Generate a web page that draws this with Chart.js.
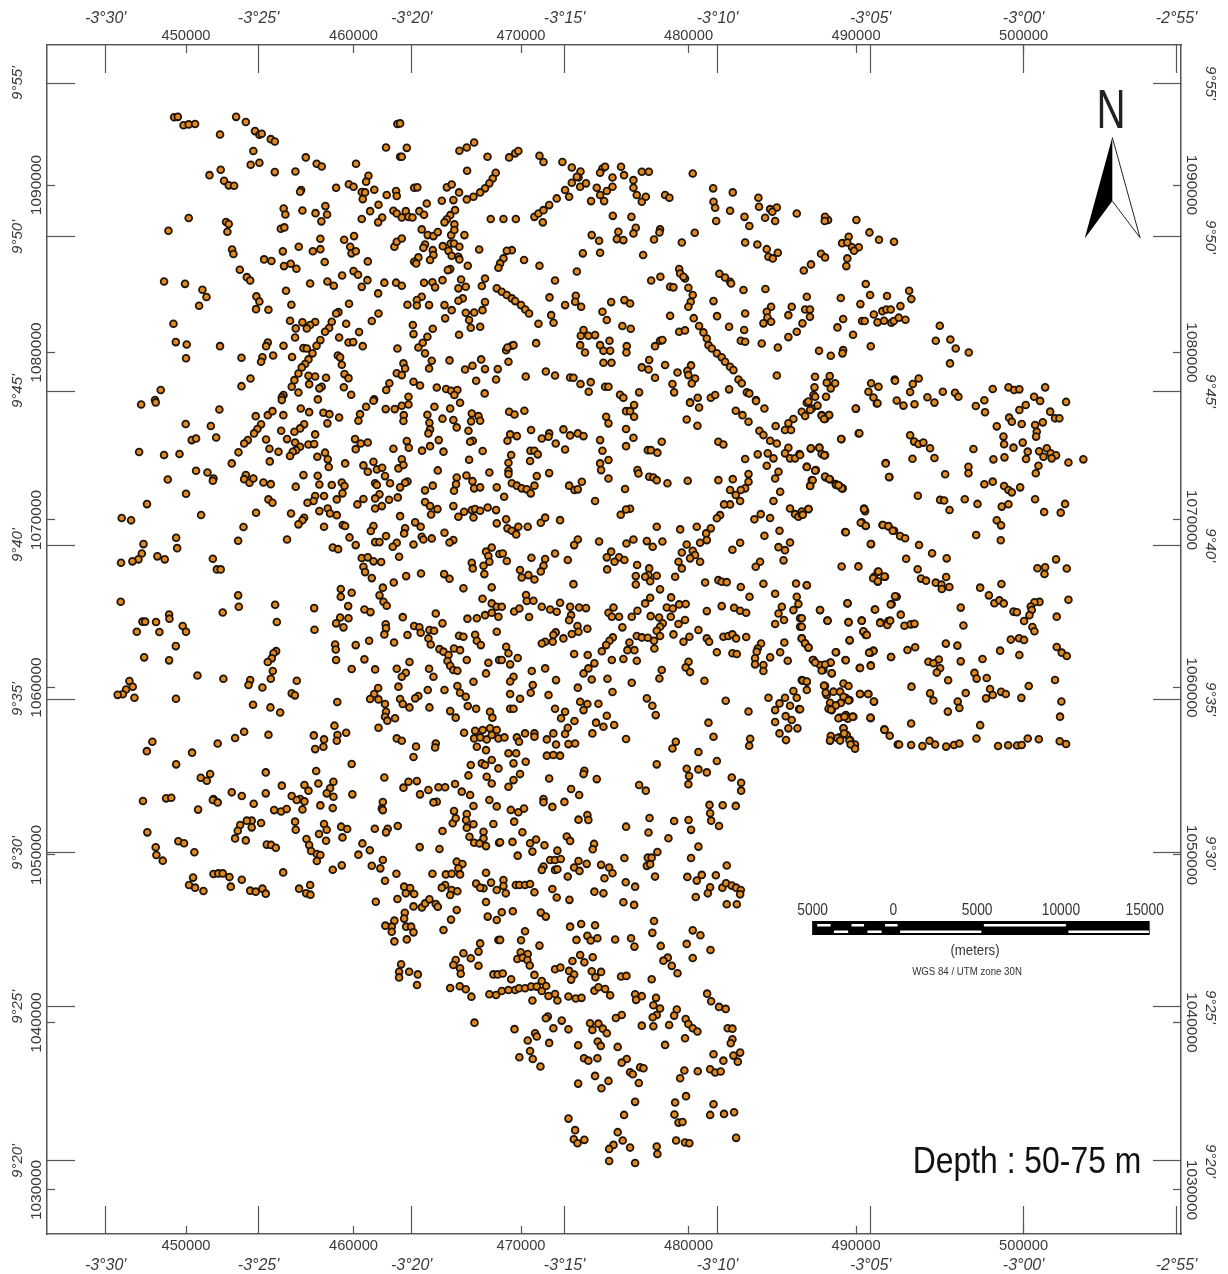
<!DOCTYPE html>
<html>
<head>
<meta charset="utf-8">
<style>
html,body{margin:0;padding:0;background:#fff}
#wrap{width:1228px;height:1274px}
</style>
<script src="https://cdn.jsdelivr.net/npm/chart.js@4/dist/chart.umd.min.js"></script>
</head>
<body>
<div id="wrap"><canvas id="map" width="1228" height="1274"></canvas></div>
<script>
// grid ticks, km
var utmEast = [450,460,470,480,490,500];
var utmEastLabels = ['450000','460000','470000','480000','490000','500000'];
var utmNorth = [1030,1040,1050,1060,1070,1080,1090];
var utmNorthLabels = ['1030000','1040000','1050000','1060000','1070000','1080000','1090000'];
var lonTicks = [445.2,454.33,463.47,472.6,481.73,490.87,500,509.13];
var lonLabels = ["-3°30'","-3°25'","-3°20'","-3°15'","-3°10'","-3°05'","-3°00'","-2°55'"];
var latTicks = [1031.73,1040.93,1050.12,1059.31,1068.5,1077.7,1086.9,1096.09];
var latLabels = ["9°20'","9°25'","9°30'","9°35'","9°40'","9°45'","9°50'","9°55'"];
var scaleBarTicks = [-5,0,5,10,15];
var scaleBarLabels = ['5000','0','5000','10000','15000'];
var scaleBarOrigin = 492.53;

// wells [easting km, northing km], by part of the map
var wellsNW = [[449.29,1094.05],[449.51,1094.07],[449.85,1093.57],[450.16,1093.62],[450.54,1093.64],[452.03,1093.02],[452.99,1094.07],[453.57,1093.76],[454.12,1093.22],[454.38,1093],[454.52,1093.06],[455.06,1092.74],[455.3,1092.6],[454.02,1092.03],[453.86,1091.21],[454.38,1091.33],[457.15,1091.65],[457.8,1091.27],[458.1,1091.11],[455.3,1090.77],[456.53,1090.81],[452.07,1090.91],[451.4,1090.59],[452.27,1090.25],[452.55,1089.98],[452.87,1089.96],[460.15,1091.27],[461.94,1092.24],[460.89,1090.55],[460.75,1090.2],[462.62,1093.64],[462.78,1091.69],[459.72,1090.05],[460,1089.9],[458.96,1089.84],[456.87,1089.7],[456.81,1089.6],[460.49,1089.58],[460.69,1089.56],[461.24,1089.72],[461.98,1089.4],[462.54,1089.64],[462.58,1089.34],[460.55,1089.16],[461.49,1088.82],[460.99,1088.44],[462.38,1088.46],[461.71,1088.06],[461.47,1087.77],[460.49,1087.97],[455.83,1088.6],[455.93,1088.24],[456.95,1088.48],[457.73,1088.32],[458.32,1088.74],[458.42,1088.24],[458.08,1087.83],[450.16,1088.03],[452.39,1087.79],[452.55,1087.67],[452.47,1087.21],[448.95,1087.27],[455.66,1087.39],[455.87,1087.47],[458.02,1086.79],[459.44,1086.73],[460.03,1086.95],[462.58,1088.3],[462.44,1086.31],[462.58,1086.61],[452.75,1086.15],[452.83,1085.88],[455.78,1086.04],[456.73,1086.31],[457.57,1086.05],[458.02,1086.17],[459.8,1086.31],[459.88,1085.92],[460.14,1086.05],[454.66,1085.56],[455.1,1085.46],[455.85,1085.16],[456.25,1085.3],[456.59,1085],[458.28,1085.4],[460.85,1085.44],[453.21,1084.94],[453.63,1084.5],[453.83,1084.3],[460,1084.86],[460.27,1084.64],[459.32,1084.6],[448.69,1084.24],[449.94,1084.1],[457.41,1084.12],[458.44,1084.24],[458.82,1083.99],[460.83,1084.32],[460.49,1083.92],[461.84,1084.17],[462.54,1084.17],[461.47,1083.53],[450.98,1083.75],[451.22,1083.31],[450.78,1082.79],[454.2,1083.35],[454.38,1083.05],[454.18,1082.59],[454.92,1082.55],[455.97,1083.69],[456.29,1082.85],[459.73,1082.91],[461.49,1082.33],[459.1,1082.41],[458.96,1082.33],[461.09,1081.88],[456.21,1081.9],[456.95,1081.8],[457.71,1081.82],[457.41,1081.64],[457.21,1081.44],[456.55,1081.44],[459.56,1081.72],[458.7,1081.84],[458.54,1081.46],[458.3,1081.24],[460.33,1081.22],[449.25,1081.72],[449.39,1080.62],[450.04,1080.48],[452.03,1080.38],[456.51,1080.9],[459.14,1080.9],[459.7,1080.6],[459.98,1080.62],[458.02,1080.74],[457.79,1080.4],[460.55,1080.38],[454.88,1080.6],[454.78,1080.38],[455.82,1080.4],[457.01,1080.26],[457.21,1080.24],[457.55,1079.95],[462.62,1080.24],[450,1079.66],[453.31,1079.69],[454.56,1079.71],[454.48,1079.45],[455.2,1079.82],[456.33,1079.73],[457.31,1079.59],[459.06,1079.82],[459.2,1079.71],[457.11,1079.31],[456.91,1079.11],[459.3,1079.27],[456.71,1078.75],[459.46,1078.71],[459.7,1078.47],[457.31,1078.61],[457.71,1078.57],[458.36,1078.49],[456.47,1078.35],[453.85,1078.45],[453.31,1077.99],[448.49,1077.76],[456.31,1077.96],[457.35,1078.11],[458.1,1077.96],[457.96,1077.86],[459.42,1077.93],[459.86,1077.48],[462.14,1078.16],[461.95,1077.76],[462.58,1078.76],[456.71,1077.61],[455.82,1077.46],[455.72,1077.32],[457.87,1077.2],[461.23,1077.2],[448.15,1077.16]];

var wellsN = [[462.78,1093.68],[463.18,1092.22],[462.88,1091.69],[466.32,1092.05],[466.76,1092.24],[467.2,1092.54],[468,1091.69],[469.29,1091.65],[469.65,1091.89],[469.84,1092.03],[471.1,1091.75],[471.34,1091.37],[472.47,1091.37],[473.03,1091.05],[473.55,1090.81],[473.43,1090.45],[474.86,1090.99],[474.72,1090.73],[475.02,1091.09],[475.97,1091.09],[476.15,1090.59],[477.21,1090.79],[477.63,1090.79],[480.25,1090.69],[481.47,1089.8],[482.64,1089.56],[484.17,1089.24],[484.21,1088.7],[486.46,1088.3],[466.78,1090.85],[468.49,1090.73],[468.31,1090.39],[468.11,1090.1],[467.85,1089.8],[467.56,1089.56],[467.16,1089.3],[466.76,1089.14],[466.3,1089.56],[465.57,1089.86],[465.86,1090.03],[463.62,1089.84],[463.81,1089.86],[465.27,1089.06],[465.96,1089.1],[464.37,1088.9],[466.06,1088.5],[465.77,1088.2],[465.57,1087.95],[465.43,1087.77],[463.12,1088.44],[462.88,1088.06],[463.28,1088.1],[463.52,1088.06],[463.93,1088.44],[464.21,1088.22],[468.19,1087.97],[468.95,1087.97],[469.69,1087.97],[470.8,1088.1],[471.04,1088.3],[471.34,1088.5],[471.68,1088.8],[471.3,1087.77],[472.13,1089.2],[472.63,1089.7],[472.87,1089.3],[473.03,1090.14],[473.53,1089.9],[473.88,1090.1],[473.33,1090.49],[474.18,1089.04],[474.52,1089.84],[474.72,1089.4],[474.96,1089.04],[475.12,1089.64],[475.46,1089.9],[475.46,1090.45],[476.71,1090.29],[476.71,1089.84],[476.91,1089.4],[477.21,1089],[477.45,1089.3],[478.6,1089.4],[478.86,1089.24],[481.49,1089],[481.59,1088.64],[482.48,1088.46],[481.65,1087.85],[483.34,1088.1],[483.63,1087.55],[484.57,1088.05],[484.87,1088.56],[485.27,1088.66],[485.17,1087.85],[485,1088.4],[475.48,1088.16],[476.59,1088.1],[476.85,1087.45],[476.71,1087.11],[475.81,1087.21],[475.72,1086.77],[476.11,1086.71],[478.3,1087.35],[478.26,1087.17],[477.94,1086.75],[480.37,1087.15],[479.6,1086.57],[474.22,1087.01],[474.66,1086.67],[473.69,1085.92],[474.72,1085.96],[477.29,1085.82],[483.38,1086.57],[484.11,1086.45],[484.67,1086.17],[485.33,1085.96],[484.77,1085.72],[485.03,1085.62],[464.07,1087.35],[464.43,1087.01],[464.77,1086.95],[465.03,1087.19],[465.83,1087.01],[466.02,1087.65],[466.02,1087.31],[466.62,1087.01],[464.27,1086.45],[464.17,1086.25],[464.73,1086.11],[465.33,1086.35],[465.8,1086.51],[466,1086.51],[466.32,1086.31],[465.67,1086.07],[465.86,1085.78],[466.26,1085.72],[466.32,1085.56],[464.77,1085.82],[464.57,1085.52],[463.87,1085.68],[463.62,1085.42],[463.74,1085.32],[462.88,1086.81],[467.5,1086.15],[466.82,1085.18],[469.45,1086.11],[469.15,1086.07],[468.95,1085.62],[468.75,1085.32],[468.65,1085.06],[470.18,1085.52],[471.1,1085.18],[473.33,1084.84],[465.77,1084.98],[465.63,1084.92],[479.44,1084.98],[479.5,1084.72],[479.79,1084.42],[479.7,1084.52],[481.84,1084.7],[482.18,1084.48],[482.48,1084.22],[482.54,1084.12],[472.03,1084.3],[467.85,1084.42],[467.66,1083.97],[464.21,1084.16],[464.71,1084.19],[464.87,1083.89],[465.31,1084.32],[466.42,1084.36],[466.26,1083.83],[466.7,1083.93],[462.88,1083.99],[477.77,1084.3],[478.32,1084.52],[478.9,1083.93],[479.1,1083.89],[479.99,1083.87],[483.28,1083.73],[484.59,1083.79],[480.25,1083.43],[480.13,1083.03],[479.99,1082.73],[468.55,1083.83],[468.85,1083.63],[469.15,1083.43],[469.45,1083.23],[469.65,1083.07],[470,1082.83],[470.25,1082.57],[470.48,1082.33],[473.27,1083.39],[473.23,1083.03],[473.59,1082.73],[472.63,1082.83],[471.7,1083.29],[464.07,1083.33],[463.78,1083.13],[463.78,1082.81],[463.22,1082.85],[464.51,1082.83],[465.43,1082.83],[465.86,1082.53],[466.52,1083.23],[466.26,1083.09],[467.85,1083.01],[467.7,1082.53],[466.7,1082.37],[467.2,1082.39],[466.9,1081.94],[467,1081.48],[467.56,1081.54],[465.47,1082.04],[475.38,1083.01],[474.86,1082.43],[475.12,1081.94],[476.17,1083.13],[476.51,1082.93],[481.49,1083.07],[483.38,1082.33],[481.7,1082.17],[486.16,1082.73],[485.96,1082.23],[484.93,1082.73],[484.67,1082.43],[484.71,1082.09],[484.93,1081.84],[484.47,1081.74],[478.9,1082.19],[471.8,1082.23],[471.94,1081.78],[471.04,1081.72],[476.05,1081.58],[476.55,1081.42],[480.31,1082.05],[480.63,1081.58],[480.89,1081.2],[481.09,1080.84],[482.42,1081.54],[483.32,1081.34],[483.12,1080.7],[483.38,1080.64],[479.44,1081.24],[479.79,1081.32],[486.46,1081.24],[463.54,1081.64],[463.58,1081.1],[464.73,1081.42],[464.41,1080.94],[466.3,1081.06],[464.13,1080.58],[463.87,1080.3],[464.27,1079.95],[470.9,1080.56],[473.57,1081],[473.73,1081.34],[474.02,1081],[474.42,1081.04],[474.72,1080.44],[475.28,1080.7],[473.53,1080.44],[473.82,1080],[474.92,1080.1],[475.32,1080.1],[476.31,1080.38],[476.29,1080],[469.11,1080.14],[469.45,1080.4],[469.55,1080.44],[469.19,1080.3],[478.3,1080.7],[478.44,1080.74],[478,1080.38],[484.37,1080.54],[485.33,1080.3],[485.96,1080.92],[481.19,1080.44],[481.39,1080.24],[481.69,1079.95],[481.98,1079.71],[482.18,1079.45],[482.48,1079.15],[482.68,1078.95],[464.67,1079.51],[464.51,1079.05],[465.73,1079.53],[462.98,1079.35],[463.08,1079.05],[462.88,1078.65],[469.25,1079.45],[467.62,1079.59],[467.1,1079.21],[466.66,1078.99],[467.85,1079.01],[468.61,1079.01],[468.51,1078.39],[467.32,1078.31],[474.92,1079.39],[475.4,1079.39],[477.65,1079.55],[477.21,1079.11],[477.61,1078.99],[478.6,1079.25],[480.15,1079.23],[479.93,1078.91],[479.99,1078.65],[480.39,1078.45],[480.19,1078.15],[479.34,1078.81],[478,1078.49],[479.04,1078.12],[479.14,1077.62],[485.27,1078.63],[482.98,1078.39],[483.18,1078.16],[471.48,1078.87],[472.03,1078.63],[472.93,1078.51],[473.13,1078.49],[473.55,1078.12],[474.16,1078.23],[474.04,1077.66],[475.02,1077.96],[475.22,1077.96],[470.28,1078.57],[463.58,1078.25],[463.97,1078.03],[464.97,1077.91],[465.53,1077.82],[465.83,1077.72],[466.2,1077.76],[466.02,1077.46],[463.28,1077.36],[477.05,1077.62],[475.91,1077.48],[476.11,1077.3],[467.83,1077.56],[482.42,1077.8],[483.48,1077.62],[483.63,1077.56],[484.03,1077.16],[480.55,1077.3],[480.09,1077.02],[481.33,1077.3],[481.59,1077.46]];

var wellsNE = [[488.33,1087.91],[490.02,1087.91],[490.8,1087.17],[491.37,1086.73],[492.27,1086.61],[489.56,1086.91],[489.17,1086.53],[489.48,1086.57],[490.16,1086.28],[489.76,1086.28],[489.88,1086.08],[489.48,1085.62],[489.42,1085.16],[490.58,1084.09],[489.09,1083.25],[490.84,1083.43],[491.85,1083.37],[493.17,1083.69],[493.3,1083.19],[490.26,1082.89],[492.65,1082.77],[491.06,1082.27],[491.57,1082.47],[491.81,1082.57],[492.07,1082.57],[489.23,1082],[488.89,1081.5],[490.36,1081.88],[490.52,1081.88],[491.28,1081.8],[491.67,1081.9],[492.11,1081.78],[492.25,1081.88],[492.55,1082.08],[492.95,1081.96],[489.82,1081.06],[495,1081.6],[494.76,1080.7],[495.63,1080.78],[495.95,1080.24],[496.73,1080],[495.61,1079.35],[490.88,1080.37],[489.23,1080.14],[489.19,1079.95],[488.49,1079.81],[488.43,1078.59],[492.31,1078.39],[493.74,1078.45]];

var wellsGap = [[488.15,1088.1],[488.13,1087.85],[487.91,1085.9],[488.15,1085.68],[487.31,1085.26],[486.88,1084.9],[487.06,1083.33],[486.96,1082.57],[487.25,1082.57],[487.25,1082.13],[486.8,1081.74],[487.79,1080.1],[487.55,1078.55]];

var wellsW = [[447.32,1076.9],[448.19,1077.02],[451.99,1076.6],[449.98,1075.73],[451.48,1075.61],[451.8,1074.93],[450.34,1074.77],[450.6,1074.87],[447.2,1074.06],[448.69,1073.88],[449.61,1073.94],[452.73,1073.38],[450.6,1072.94],[451.28,1072.84],[451.64,1072.48],[451.6,1072.34],[448.91,1072.42],[450,1071.57],[447.67,1070.95],[450.9,1070.3],[446.16,1070.12],[446.72,1069.98],[449.41,1068.94],[449.47,1068.32],[447.46,1068.56],[447.36,1068],[447.16,1067.65],[446.8,1067.53],[446.12,1067.45],[448.29,1067.83],[448.73,1067.65],[451.6,1067.69],[451.84,1067.05],[452.07,1067.05],[453.11,1065.5],[453.15,1064.82],[452.19,1064.48],[455.32,1064.94],[455.42,1063.91],[457.67,1063.45],[457.65,1064.74],[446.1,1065.12],[447.4,1063.93],[447.56,1063.93],[448.21,1063.91],[448.99,1064.36],[449.01,1064.1],[447.06,1063.33],[448.41,1063.31],[449.8,1063.67],[450,1063.33],[449.39,1062.47],[447.5,1061.8],[448.99,1061.62],[450.68,1060.72],[452.23,1060.52],[453.83,1060.44],[453.73,1060.15],[454.56,1060],[455.18,1060.98],[455.06,1060.52],[455.38,1062.17],[455.22,1062.04],[455.12,1061.74],[454.88,1061.52],[456.61,1060.4],[456.31,1059.65],[456.5,1059.53],[454,1058.97],[455.04,1058.81],[455.62,1058.51],[459.03,1059.13],[461.47,1059.97],[449.4,1059.33],[446.92,1059.39],[446.62,1060.38],[446.82,1060.04],[446.42,1059.88],[446.22,1059.6],[445.92,1059.56],
[454.16,1076.2],[454.88,1076.26],[455.16,1076.5],[455.81,1076.26],[456.85,1076.66],[457.35,1076.44],[458.2,1076.4],[458.56,1076.32],[459.14,1076.12],[455.72,1077.16],[458.44,1075.77],[457.05,1075.71],[456.81,1075.47],[456.47,1075.27],[455.68,1075.33],[454.48,1075.71],[454.26,1075.43],[454.06,1075.17],[453.69,1074.77],[453.47,1074.57],[453.13,1074.04],[454.78,1074.81],[454.98,1074.25],[455.52,1074.07],[456.03,1074.83],[456.51,1074.63],[456.81,1074.37],[456.57,1074.17],[456.37,1074.07],[456.21,1073.82],[457.31,1074.51],[457.65,1074.53],[457.71,1075.11],[455,1073.5],[457.84,1073.78],[458.3,1074.02],[458.46,1073.62],[458.52,1073.16],[459.5,1073.38],[457.01,1072.68],[457.86,1072.64],[457.96,1072.12],[458.7,1072.09],[459.3,1072.24],[459.46,1072.03],[459.34,1071.59],[459,1071.23],[456.55,1071.99],[458.24,1071.43],[457.71,1071.43],[457.61,1071.13],[457.25,1071.03],[453.57,1072.68],[453.47,1072.44],[453.79,1072.22],[454.02,1072.48],[454.62,1072.24],[455.06,1072.14],[454.92,1071.23],[455.16,1071.03],[454.18,1070.43],[456.27,1070.39],[457.05,1070.13],[456.95,1069.98],[456.71,1069.74],[453.43,1069.58],[453.11,1068.76],[456.03,1068.84],[458.24,1069.6],[457.96,1070.53],[458.46,1070.69],[458.6,1070.39],[459,1070.29],[459.36,1069.7],[459.5,1069.64],[459.76,1068.96],[460.13,1068.5],[458.76,1068.36],[459.08,1068.26],
[461.19,1077.12],[460.75,1076.76],[460.39,1076.32],[460.29,1075.93],[461.92,1076.62],[462.46,1076.62],[462.88,1076.82],[463.28,1076.9],[463,1076.26],[462.98,1075.91],[464.41,1076.28],[464.53,1075.81],[464.57,1075.41],[464.47,1075.17],[464.83,1076.76],[465.77,1076.66],[466.36,1077],[465.31,1076.05],[465.96,1075.97],[466.16,1075.53],[467.02,1075.89],[467.06,1076.36],[467.46,1076.2],[467.56,1075.93],[466.86,1075.33],[467.12,1074.73],[466.96,1074.67],[460.09,1074.83],[460.43,1074.57],[460.85,1074.63],[460.13,1074.23],[462.38,1074.25],[463.18,1074.71],[463.3,1074.31],[464.09,1074.14],[464.57,1074.41],[465.09,1074.77],[465.37,1074.08],[467.71,1074.12],[466.9,1073.6],[462.88,1073.62],[462.68,1073.08],[462.98,1073.28],[460.59,1073.26],[460.85,1072.88],[461.19,1073.48],[461.39,1073.02],[461.71,1073.12],[461.88,1072.62],[462.18,1072.19],[461.29,1072.19],[461.39,1072.09],[463.22,1072.3],[463.08,1072.22],[465.03,1072.96],[468.11,1072.84],[462.78,1071.95],[464.27,1071.77],[464.73,1072.05],[466.16,1072.54],[466.12,1072.14],[466,1071.75],[466.74,1072.66],[467.1,1072.32],[467.2,1071.89],[467.56,1071.95],[468.55,1071.95],
[461.55,1071.53],[461.29,1071.29],[462.12,1071.21],[462.64,1071.35],[460.59,1071.25],[460.23,1070.93],[461.29,1070.69],[461.69,1070.83],[464.27,1071.07],[464.57,1070.83],[465.01,1070.65],[464.63,1070.33],[465.96,1070.83],[462.78,1070.23],[466.26,1070.19],[466.6,1070.49],[467.06,1070.59],[467.26,1070.65],[467.16,1070.15],[467.56,1070.55],[468.01,1070.75],[468.51,1070.59],[468.55,1069.8],[463.68,1069.86],[464.01,1069.6],[463.08,1069.5],[463.02,1069.2],[461.19,1069.64],[461.03,1069.34],[461.94,1069.04],[461.29,1068.68],[461.55,1068.68],[462.58,1068.64],[462.34,1068.4],[464.07,1069],[464.17,1068.84],[464.67,1068.9],[463.58,1068.54],[465.43,1069.24],[465.96,1068.8],[465.73,1068.66],[468.25,1068.36],[467.91,1068.11],[468.05,1067.85],[468.71,1067.97],[462.72,1067.81],[460.49,1067.73],[460.85,1067.77],[460.59,1067.21],[460.69,1066.89],[461.09,1066.53],[461.65,1067.49],[461.19,1067.53],[467.06,1067.45],[467.12,1067.11],[468.11,1067.51],[467.76,1067.27],[467.81,1066.77],[464.03,1066.81],[463.14,1066.65],[462.4,1066.27],[465.41,1066.77],[465.73,1066.49],[461.75,1065.96],[461.55,1065.5],[461.79,1065.12],[461.98,1064.88],[466.56,1065.92],[468.25,1065.98],[467.7,1065.3],[459.24,1065.88],[459.89,1065.66],[459.24,1065.42],[459.68,1064.86],[460.65,1064.66],[461.01,1064.5],[468.25,1065.02],[468.55,1064.82],[462.94,1064.2],[464.91,1064.42],[465.31,1063.83],[466.8,1064.11],[467.36,1064.13],[467.85,1064.32],[468.25,1064.46],[468.65,1064.22],[459.2,1064.18],[458.96,1063.83],[459.7,1064.13],[459.4,1063.59],[461.92,1063.77],[461.94,1063.53],[461.84,1063.17],[463.22,1063.13],[463.62,1063.67],[463.93,1063.59],[464.01,1063.27],[464.53,1063.43],[464.81,1063.39],[464.47,1062.93],[464.61,1062.57],[465.13,1062.29],[465.37,1062.14],[466,1062.33],[466.36,1062.23],[465.67,1061.94],[465.61,1061.58],[465.77,1061.3],[465.96,1061.04],[466.2,1061],[466.76,1061.64],[466.3,1063.09],[466.56,1063.03],[467.26,1063.15],[467.36,1062.79],[467.6,1062.53],[468.55,1063.33],[460.93,1062.79],[462.42,1062.69],[460.13,1062.53],[458.9,1062.57],[458.94,1062.27],[458.96,1061.64],[460.65,1061.68],[459.89,1061.1],[461.29,1061.08],[462.58,1061.12],[463.34,1061.52],[463.12,1060.88],[462.88,1060.64],[464.51,1061.12],[464.77,1060.64],[468.05,1061.48],[467.91,1060.84],[468.69,1061.64],[462.68,1060.05],[464.43,1059.85],[465.43,1059.85],[467.16,1060.34],[466.2,1060.09],[466.36,1059.69],[466.7,1059.45],[463.87,1059.49],[463.68,1059.35],[461.23,1059.61],[460.99,1059.31],[461.49,1059.29],[461.88,1059.01],[461.94,1058.55],[461.88,1058.25],[462.48,1058.16],[462.02,1058.02],[462.78,1059.31],[462.94,1059.01],[463.34,1058.81],[464.53,1058.81],[466.82,1058.89],[467.32,1058.73],[468.15,1058.55],[468.29,1058.2],[465.77,1058.59],[466.1,1058.2],[458.86,1057.72],[461.49,1057.6],[459.56,1057.3],[459.04,1057.16],[459,1056.82],[458.24,1056.9],[458.2,1056.46],[457.71,1056.32],[457.63,1057.14],[454.92,1057.18],[453.47,1057.36],[452.93,1056.98],[451.89,1056.66],[447.99,1056.76],[447.66,1056.2],[450.36,1056.11],[449.41,1055.41],[462.58,1056.96],[462.88,1056.82],[463.73,1056.48],[464.91,1056.66],[464.87,1056.42],[463.58,1055.85],[466.6,1057.3],[467.26,1057.42],[467.71,1057.46],[468.15,1057.56],[468.55,1057.46],[467.2,1056.96],[467.56,1057.02],[467.95,1056.9],[468.25,1057.16],[468.65,1056.96],[467.36,1056.46],[467.91,1056.26],[467.66,1055.47],[468.25,1055.67],[467,1055.37],[467.85,1055.37],[459.89,1055.43],[457.77,1055.01],[454.76,1054.93],[450.88,1054.61],[451.44,1054.83],[451.24,1054.43],[466.86,1054.75],[467.95,1054.67],[468.65,1055.17],[461.84,1054.63],[463.28,1054.37],[463.78,1054.41],[462.98,1054.02],[463.97,1053.62],[464.47,1053.88],[465.07,1054.04],[465.47,1054.04],[466.06,1054.24],[466.46,1053.78],[466.96,1053.58],[468.25,1054.27],[455.72,1054.14],[457.07,1054.18],[457.31,1053.84],[457.9,1054.27],[458.8,1054.37],[458.6,1053.98],[458.4,1053.68],[452.73,1053.74],[454.76,1053.68],[453.33,1053.52],[456.31,1053.52],[459.93,1053.62],[451.64,1053.34],[458.8,1053.48],[456.81,1053.34]];

var wellsC = [[469.29,1076.46],[469.61,1076.3],[470.2,1076.52],[475.08,1076.16],[475.22,1075.77],[476.27,1076.5],[476.75,1076.86],[476.51,1076.5],[476.75,1076.16],[476.27,1075.43],[480.09,1077],[480.63,1076.72],[479.89,1076],[480.53,1075.63],[482.82,1076.52],[483.22,1076.26],[483.58,1075.87],[484.03,1077.1],[484.53,1076.66],[487.06,1077],[486.76,1076.46],[487.36,1076.66],[487.95,1076.26],[488.39,1076.26],[488.15,1076.03],[490,1076.64],[491.24,1076.96],[486.26,1076.03],[485.96,1075.77],[485.76,1075.37],[486.12,1075.37],[485.2,1075.61],[490.16,1075.17],[484.23,1075.33],[484.47,1075.07],[484.87,1074.73],[485.27,1074.57],[489.13,1074.83],[470.6,1075.37],[469.35,1075.11],[469.75,1075.01],[469.19,1074.73],[471.24,1074.87],[471.68,1075.17],[471.64,1074.97],[472.53,1075.41],[472.93,1075.05],[473.39,1075.17],[473.73,1075.01],[474.72,1074.77],[472.07,1074.57],[472.63,1074.21],[474.86,1074.13],[476.71,1074.91],[476.27,1074.41],[478.4,1074.67],[481.78,1074.67],[482.08,1074.51],[477.57,1074.17],[477.75,1074.17],[478.14,1074.02],[470.56,1074.13],[470.8,1074.13],[471,1073.92],[469.41,1073.88],[470.54,1073.52],[469.25,1073.42],[469.25,1072.94],[469.25,1072.74],[470.94,1072.62],[471.68,1072.8],[474.72,1073.38],[475.22,1073.58],[474.78,1072.98],[475.22,1072.48],[476.95,1072.98],[477.01,1072.78],[483.38,1073.64],[484.13,1073.92],[484.73,1073.98],[485.07,1073.68],[484.67,1073.24],[485.37,1072.88],[485.17,1072.48],[485.96,1074.31],[485.76,1073.98],[486.06,1073.68],[486.36,1073.68],[486.62,1073.94],[487.3,1074.25],[487.81,1074.31],[488.15,1073.88],[487.06,1073.18],[487.6,1072.98],[487.36,1072.38],[487.26,1072.05],[488.19,1072.54],[488.45,1072.42],[488.79,1072.14],[489.01,1072.03],[489.21,1071.89],[491.77,1073.4],[491.99,1072.56],[477.65,1072.58],[477.9,1072.54],[478.1,1072.38],[478.74,1072.19],[479.95,1072.34],[481.78,1072.38],[482.64,1072.44],[483.58,1072.74],[483.58,1072.28],[483.38,1071.89],[483.12,1071.79],[482.48,1071.79],[482.82,1071.49],[483.08,1071.13],[482.48,1070.93],[482.12,1070.93],[485.47,1071.69],[485.07,1071.13],[469.45,1072.19],[469.75,1072.05],[470.04,1071.89],[470.34,1071.83],[470.8,1072.05],[470.58,1071.59],[472.87,1072.05],[473.19,1071.79],[473.39,1071.83],[473.63,1072.28],[468.99,1071.39],[476.21,1071.85],[474.42,1071.13],[476.51,1070.67],[476.27,1070.63],[475.95,1070.31],[486.06,1070.69],[486.36,1070.35],[486.56,1070.19],[486.76,1070.33],[487.16,1070.65],[490.48,1070.69],[490.54,1070.53],[483.93,1070.04],[484.31,1070.35],[484.87,1070.12],[481.88,1070.29],[481.69,1070.1],[481.33,1069.5],[481.05,1069.2],[480.49,1069.6],[479.5,1069.44],[478.1,1069.6],[469.11,1070.04],[469.19,1069.5],[469.45,1069.36],[469.84,1069.6],[469.71,1069.14],[470.4,1069.6],[471.18,1069.84],[471.44,1070.14],[472.33,1069.99],[490.34,1069.86],[490.58,1069.64],[491.58,1069.7],[491.93,1069.64],[492.27,1069.36],[489.35,1069.28],[485.43,1069.36],[484.53,1069.06],[490.9,1068.56],[486.06,1068.66],[485.37,1068.38],[485.76,1068.2],[485.67,1067.59],[483.08,1068.64],[482.62,1068.22],[473.39,1068.84],[473.17,1068.5],[474.66,1068.72],[476.29,1068.6],[476.71,1068.84],[477.51,1068.74],[477.86,1068.4],[478.44,1068.72],[479.89,1068.54],[480.69,1068.64],[481.09,1068.8],[480.25,1068.16],[479.6,1068.06],[480.39,1067.91],[480.09,1067.71],[479.4,1067.51],[479.6,1067.11],[480.69,1067.51],[479.2,1066.61],[468.91,1068],[469.15,1067.55],[470.62,1067.75],[471.44,1067.67],[471.34,1067.27],[472.03,1068],[471.18,1066.93],[472.79,1067.61],[469.94,1067.01],[470.44,1066.71],[470.04,1066.57],[470.8,1066.45],[475.38,1068.11],[475.12,1067.77],[475.85,1067.77],[475.58,1067.51],[476.17,1067.61],[475.14,1067.05],[476.93,1067.31],[477.65,1067.11],[477.61,1066.71],[477.41,1066.61],[478.1,1066.67],[476.85,1066.65],[476.85,1066.15],[477.71,1066.35],[473.13,1066.17],[490.14,1067.23],[491.3,1066.91],[491.73,1066.61],[491.08,1066.61],[491.3,1066.31],[484.27,1067.51],[484.01,1067.21],[480.99,1066.27],[481.78,1066.41],[481.98,1066.31],[482.28,1066.29],[483.12,1066],[484.47,1066.19],[486.42,1066.21],[487.06,1066.1],[483.64,1065.42],[485.17,1065.6],[478.3,1065.86],[470.3,1065.52],[470.34,1065.16],[470.74,1065.18],[471.24,1064.82],[471.74,1064.66],[472.13,1064.52],[472.33,1065.06],[472.93,1064.82],[473.47,1064.78],[473.88,1064.74],[468.85,1064.82],[469.59,1064.54],[469.9,1064.72],[470.48,1064.21],[472.99,1064.32],[472.87,1064.02],[477.71,1065.36],[477.41,1065.02],[476.95,1064.58],[476.61,1064.22],[478.96,1065.38],[479.44,1064.96],[479.83,1064.98],[478.7,1064.78],[479.06,1064.72],[478.94,1064.22],[477.74,1064.26],[478.24,1064.18],[478.46,1063.83],[478.3,1063.63],[478.1,1063.39],[479.79,1064.03],[479.4,1063.79],[475.52,1064.78],[475.22,1064.46],[475.42,1064.22],[475.85,1064.22],[476.05,1063.59],[481.98,1064.86],[482.72,1064.76],[483.08,1064.58],[483.44,1064.46],[481.09,1064.56],[486.46,1065.42],[486.56,1064.98],[486.26,1064.62],[485.57,1064.82],[485.37,1064.42],[485.7,1064.03],[485.17,1063.79],[486.66,1064.13],[486.66,1063.63],[487.85,1064.62],[488.29,1063.99],[489.49,1065.02],[489.55,1063.89],[490.34,1063.99],[491.12,1064.66],[492.13,1064.98],[492.43,1065.42],[491.44,1063.89],[491.93,1063.97],[490.44,1063.33],[490.58,1063.13],[489.61,1062.81],
[472.07,1063.29],[471.93,1063.13],[473.37,1063.67],[473.96,1063.51],[473.43,1063.33],[473.03,1063.19],[472.53,1062.93],[471.89,1062.73],[471.44,1062.73],[471.24,1062.63],[476.91,1063.07],[477.21,1062.99],[477.57,1062.97],[477.94,1062.79],[478.3,1063.07],[477.96,1062.33],[479.1,1063.17],[480.59,1063.43],[480.05,1063.03],[479.7,1062.73],[481.09,1062.93],[481.23,1062.73],[482.08,1063.03],[482.38,1063.07],[482.62,1063.17],[482.84,1062.93],[483.44,1063.01],[475.48,1062.99],[475.28,1062.79],[475.08,1062.53],[476.47,1062.69],[476.35,1062.23],[476.77,1062.23],[474.82,1062.16],[473.17,1062],[473.98,1061.94],[469.11,1062.43],[469.25,1062.04],[469.8,1061.76],[468.85,1061.64],[469.35,1061.38],[474.38,1061.44],[474.02,1061.14],[473.73,1060.84],[474.22,1060.48],[475.42,1061.64],[476.11,1061.7],[476.91,1061.6],[481.69,1062.1],[482.62,1062.04],[482.88,1062],[484.33,1062.63],[484.13,1062.33],[484.07,1062.14],[483.97,1061.74],[484.47,1061.34],[483.97,1061.38],[484.47,1060.98],[484.87,1061.8],[485.47,1062.1],[485.72,1062.69],[485.92,1061.6],[486.76,1062.93],[486.96,1062.63],[487.16,1062.39],[488.81,1062.1],[489.37,1061.64],[490.88,1062.08],[491.04,1062.21],[492.09,1061.82],[490.22,1061.16],[490.88,1061.32],[487.46,1061.64],[487.85,1061.34],[488.45,1061.48],[488.05,1061.04],[488.55,1060.84],[480,1061.54],[479.83,1061.2],[480.09,1060.92],[478.4,1061.04],[478.26,1060.54],[480.95,1060.4],[470.64,1060.98],[471.44,1061.14],[469.55,1060.64],[469.35,1060.36],[472.09,1060.44],[475.16,1060.52],[476.61,1060.28],[470.7,1060.15],[470.58,1059.69],[469.35,1059.61],[469.94,1059.33],[471.64,1059.55],[473.39,1059.99],[475.46,1059.73],[469.35,1058.73],[469.55,1058.73],[482.22,1059.21],[483.58,1058.57],[477.51,1059.35],[477.84,1058.91],[478.04,1058.35],[486.76,1060.44],[487.06,1060.34],[488.15,1060.09],[488.25,1059.55],[488.65,1059.75],[489.05,1059.75],[489.25,1060.24],[489.55,1060.09],[489.61,1059.25],[489.39,1059.39],[488.45,1059.09],[488.55,1058.65],[490.24,1059.61],[490.74,1059.61],[491.08,1059.15],[486.26,1059.79],[485.76,1059.39],[486.46,1059.39],[484.77,1059.39],[485.43,1059.05],[485.17,1058.65],[486.06,1058.91],[486.6,1058.71],[473.53,1059.15],[473.96,1059.01],[474.62,1059.03],[473.73,1058.65],[472.03,1058.73],[472.63,1058.55],[472.39,1058.16],[475.12,1058.31],[485.8,1058.29],[486.16,1058.06],[485.17,1057.94],[486.5,1057.56],[485.96,1057.56],[485.43,1057.26],[485.82,1056.86],[489.01,1058.2],[489.39,1058.31],[489.84,1058.25],[490.88,1058.17],[489.25,1057.56],[491.69,1057.5],[489.45,1057.16],[489.01,1057.02],[488.45,1056.82],[489.65,1056.86],[489.94,1056.6],[473.19,1058],[472.79,1057.6],[472.63,1057.22],[474.48,1057.9],[474.92,1057.66],[475.56,1057.76],[474.26,1057.26],[481.19,1057.9],[481.49,1057.06],[483.68,1056.94],[483.62,1056.52],[479.24,1056.76],[479.04,1056.36],[476.27,1056.92],[480.59,1056.15],[481.69,1055.61],[478.1,1055.41],[492.49,1056.6],[469.01,1057.02],[469.75,1057.02],[469.88,1056.76],[470.24,1057.26],[470.8,1057.26],[470.8,1057.06],[471.54,1056.9],[471.93,1057.26],[472.09,1056.6],[472.83,1056.62],[473.23,1056.66],[471.54,1055.93],[471.93,1055.97],[472.33,1055.93],[469.25,1056.07],[469.55,1055.47],[470.28,1055.57],[469.71,1056.07],[479.89,1055.15],[480.59,1055.11],[481.09,1054.93],[480.03,1054.71],[479.99,1054.22],[473.78,1055.03],[473.73,1054.83],[471.68,1054.57],[474.52,1054.53],[469.94,1054.83],[469.55,1054.47],[469.25,1054.07],[482.58,1054.63],[483.14,1054.31],[483.14,1053.84],[477.05,1054.18],[477.45,1053.84],[472.99,1053.94],[473.47,1053.58],[471.34,1053.34]];

var wellsE = [[487.52,1077.92],[487.46,1077.46],[487.16,1077.07],[487.56,1077.36],[487.7,1076.83],[487.26,1076.57],[486.96,1076.21],[487.95,1076.23],[488.39,1076.27],[488.09,1076.03],[488.25,1078.2],[488.49,1077.86],[488.75,1078.16],[488.21,1077.36],[489.98,1076.65],[489.11,1074.84],[490.2,1075.18],[490.9,1078.16],[491.34,1077.96],[490.74,1077.66],[491.04,1077.31],[491.28,1076.97],[492.33,1078.32],[493.39,1078.12],[493.23,1077.64],[492.43,1077.13],[492.83,1076.83],[493.49,1076.91],[494.26,1077.33],[494.68,1077.01],[495.18,1077.66],[495.91,1077.6],[496.11,1077.36],[497.15,1076.81],[497.66,1077.15],[497.7,1076.43],[498.16,1077.82],[499.1,1077.92],[499.44,1077.76],[499.75,1077.8],[501.29,1077.92],[500.63,1077.36],[500.99,1077.11],[500.13,1076.87],[499.75,1076.57],[502.54,1077.05],[501.59,1076.47],[501.88,1076.07],[502.14,1076.07],[501.15,1075.83],[499.14,1076.11],[499.3,1075.87],[499.89,1075.73],[498.4,1075.59],[500.69,1075.67],[500.79,1075.27],[500.75,1074.98],[498.8,1074.98],[498.84,1074.52],[499.4,1074.32],[499.95,1074.62],[493.23,1075.06],[493.47,1074.68],[493.73,1074.54],[494.02,1074.62],[494.42,1074.28],[497.01,1074.24],[487.3,1074.28],[487.81,1074.32],[487.95,1073.94],[488.11,1073.86],[486.66,1073.88],[493.37,1073.66],[494.68,1073.7],[491.77,1073.38],[491.97,1072.57],[498.2,1073.62],[498.86,1073.74],[500.25,1074.08],[500.93,1074.1],[500.15,1073.64],[501.39,1074.28],[501.62,1073.98],[501.94,1073.86],[501.68,1073.68],[501.19,1073.78],[502.68,1073.43],[503.57,1073.62],[500.89,1073.24],[500.73,1072.79],[496.71,1073.18],[496.71,1072.79],[495.32,1072.73],[487.06,1073.17],[487.56,1072.95],[488.15,1072.59],[488.41,1072.45],[487.41,1072.37],[487.26,1072.03],[488.81,1072.09],[489.15,1071.89],[488.95,1072.07],[497.66,1072.13],[498.16,1072.29],[498.84,1072.03],[499.1,1071.79],[499.3,1071.65],[499.8,1071.95],[493.69,1071.45],[495.02,1071.2],[495.26,1071.16],[496.49,1071.24],[497.25,1070.96],[495.58,1070.6],[498.7,1070.8],[499.1,1070.94],[500.69,1071.24],[502.48,1070.96],[501.23,1070.48],[502.22,1070.44],[487.16,1070.66],[486.76,1070.5],[486.82,1070.32],[490.48,1070.64],[490.28,1069.84],[490.58,1069.66],[491.6,1069.7],[491.93,1069.62],[492.19,1069.36],[492.63,1069.04],[492.93,1068.91],[489.39,1069.27],[490.88,1068.57],[498.4,1069.98],[498.66,1069.68],[497.17,1069.1],[498.64,1068.79],[493.76,1068.51],[494.54,1068.01],[495.41,1067.71],[492.99,1067.69],[501.94,1067.65],[489.14,1067.22],[493.68,1067.06],[491.34,1066.92],[491.02,1066.52],[491.3,1066.34],[491.7,1066.62],[493.88,1066.5],[494.18,1066.38],[494.76,1066.26],[495.1,1066.14],[495.12,1065.88],[495.57,1066],[495.38,1066.6],[500.83,1067.12],[501.29,1067.18],[501.25,1066.78],[502.58,1067.1],[498.68,1066.18],[487.06,1066.1],[497.41,1065.96],[497.93,1065.5],[498.26,1065.03],[498.56,1065.2],[498.82,1065.02],[489.49,1065.03],[492.33,1065.44],[492.07,1064.96],[491.14,1064.66],[487.85,1064.63],[496.25,1064.77],[499.4,1064.53],[499.6,1064.49],[500.95,1065.11],[500.65,1065.09],[500.43,1064.83],[500.49,1064.63],[502.68,1065.24],[492.67,1064.35],[489.55,1063.9],[490.34,1063.99],[488.3,1063.99],[491.44,1063.85],[491.87,1063.73],[492.04,1063.99],[492.89,1063.69],[493.27,1063.77],[493.49,1063.8],[496.41,1063.7],[501.98,1064.23],[500.03,1063.97],[500.35,1064.31],[500.53,1063.61],[500.65,1063.36],[486.76,1064.13],[486.76,1063.63],[490.44,1063.36],[490.64,1063.14],[489.62,1062.82],[499.24,1062.86],[499.73,1062.94],[500.03,1062.84],[495.36,1062.62],[496.05,1062.5],[493.53,1062.4],[493.07,1062.24],[491.04,1062.18],[490.78,1062.08],[488.79,1062.1],[498.6,1062.2],[501.98,1062.42],[502.28,1062.08],[502.58,1061.88],[499.75,1061.94],[486.76,1062.93],[486.96,1062.64],[487.16,1062.38],[487.42,1061.64],[487.56,1061.49],[489.39,1061.63],[488.49,1061.49],[488.15,1061.37],[487.95,1061.01],[488.55,1060.85],[492.09,1061.82],[490.88,1061.3],[490.24,1061.17],[496.25,1061.56],[497.55,1061.7],[494.32,1061.54],[494.94,1061.67],[494.62,1061.45],[495.02,1061.15],[494.82,1060.89],[497.07,1060.87],[497.2,1060.53],[497.8,1060.57],[495.5,1060.43],[501.88,1060.45],[486.82,1060.41],[487.06,1060.36],[487.06,1059.85],[488.09,1060.11],[488.19,1059.69],[489.25,1059.45],[489.55,1059.23],[489.09,1059.08],[488.79,1058.93],[488.36,1058.73],[489.39,1058.36],[489.51,1058.14],[488.49,1057.1],[488.51,1058.67],[490.24,1059.61],[490.72,1059.61],[491.06,1059.16],[493.31,1060.05],[494.42,1059.65],[494.62,1059.22],[496.55,1059.67],[498,1059.91],[498.16,1059.55],[497.76,1059.35],[498.66,1059.74],[498.94,1059.61],[499.87,1059.38],[500.31,1060.09],[502.26,1059.16],[496.07,1059.16],[496.17,1058.78],[495.48,1058.56],[486.66,1058.7],[488.95,1058.16],[489.31,1058.26],[489.8,1058.26],[490.86,1058.2],[493.29,1057.85],[502.18,1058.26],[497.41,1057.75],[489.25,1057.56],[489.29,1057.25],[491.7,1057.47],[492.01,1057.12],[488.45,1056.83],[488.89,1056.98],[489.05,1056.83],[489.61,1056.83],[489.68,1056.6],[489.94,1056.34],[492.57,1056.6],[493.29,1056.57],[493.96,1056.5],[494.39,1056.82],[494.72,1056.6],[495.38,1056.47],[495.85,1056.57],[496.17,1056.66],[497.19,1056.95],[498.48,1056.51],[499.08,1056.55],[499.61,1056.54],[499.89,1056.57],[500.25,1056.95],[500.91,1056.91],[502.16,1056.79],[502.54,1056.63]];

var wellsSW = [[451.6,1053.28],[451.89,1053.14],[454.04,1053.06],[455.26,1052.68],[455.68,1052.6],[456.01,1052.74],[456.61,1053.28],[457.07,1053.2],[456.95,1052.72],[458.02,1052.96],[458.76,1052.8],[456.51,1051.99],[456.55,1051.51],[453.92,1052.05],[453.63,1052.05],[453.23,1051.79],[453.09,1051.45],[452.93,1050.99],[453.57,1050.87],[454.48,1051.91],[453.92,1051.65],[458.24,1051.85],[458.4,1051.51],[457.94,1051.25],[458.36,1050.85],[459.26,1051.69],[459.62,1051.55],[459.34,1051.05],[457.19,1050.95],[457.35,1050.59],[457.47,1050.24],[457.81,1050.06],[458.02,1050],[457.81,1049.64],[454.82,1050.62],[455.08,1050.6],[455.36,1050.43],[460.53,1050.69],[460.97,1050.28],[460.29,1050.02],[459.3,1049.38],[458.76,1049.12],[461.27,1051.57],[462.04,1051.57],[461.94,1051.35],[462.64,1051.73],[461.75,1053.16],[461.69,1052.78],[461.75,1052.68],[461.09,1049.36],[461.6,1049.2],[461.75,1049.7],[451.64,1048.86],[451.93,1048.9],[452.19,1048.9],[452.59,1048.68],[452.67,1048.11],[453.33,1048.52],[453.83,1047.87],[454.16,1047.81],[454.56,1047.99],[454.76,1047.69],[451.04,1047.85],[455.8,1048.96],[456.75,1047.99],[457.41,1048.21],[457.17,1047.71],[457.43,1047.63],[461.88,1048.46],[462.56,1048.88],[463.02,1048.11],[463.38,1048.03],[463.12,1047.71],[463.62,1047.67],[462.62,1047.37],[461.33,1047.21],[463.58,1046.93],[464.08,1046.87],[464.27,1047.11],[464.53,1047.35],[464.91,1047.07],[465.03,1046.91],[464.71,1048.88],[465.51,1048.84],[465.86,1048.88],[466.16,1049.6],[466.5,1049.46],[466.26,1049.2],[466.36,1048.84],[465.47,1048.21],[465.27,1048.05],[465.86,1047.91],[465.77,1047.61],[466.2,1047.83],[466.16,1046.71],[465.82,1046.14],[465.37,1045.52],[463.06,1046.55],[463.02,1046.2],[462.44,1046.08],[462.28,1045.72],[461.9,1045.78],[462.28,1045.42],[463.14,1045.72],[463.44,1045.72],[463.58,1045.38],[462.44,1044.84],[463.18,1044.96],[465.31,1051.43],[465.13,1050.36],[463.95,1050.47],[465.92,1051.89],[466.1,1052.19],[466,1052.62],[466.76,1052.45],[466.72,1052.09],[467.16,1051.83],[466.76,1051.63],[467.76,1051.39],[466.92,1051.09],[467.76,1050.99],[467.2,1050.73],[467.52,1050.69],[467.91,1050.53],[468.69,1050.73],[468.35,1051.85],[464.97,1053.18],[464.77,1053.14],[467.16,1052.92],[468.55,1052.9],[468.11,1053.28],[467.91,1048.94],[468.21,1048.35],[467.32,1048.29],[467.76,1048.01],[467.56,1048.05],[468.55,1047.91],[467.91,1047.19],[468.01,1046.32],[468.55,1046.12],[468.65,1044.92],[462.84,1043.47],[462.72,1043.03],[462.72,1042.69],[463.32,1043.03],[463.84,1042.87],[463.79,1042.24],[467.22,1039.99],[465.77,1042.06],[466.34,1042.16],[466.7,1041.98],[467.04,1041.54],[466.1,1043.73],[465.96,1043.43],[466.56,1044.13],[466.36,1043.23],[466.4,1042.91],[467,1043.83],[467.46,1044.23],[467.56,1044.72],[467.46,1043.39],[468.35,1042.87],[468.61,1042.87],[468.11,1041.68],[468.51,1041.64]];

var wellsS = [[471.34,1053.15],[471.87,1052.87],[472.59,1053.17],[469.39,1052.69],[469.84,1052.55],[470.18,1052.77],[469.59,1051.99],[473.43,1052.11],[473.96,1052.39],[474.02,1052.09],[476.27,1051.69],[477.67,1052.21],[477.61,1051.34],[479.14,1052.03],[480,1052.09],[480.15,1051.5],[481.25,1052.99],[482.04,1052.97],[482.82,1052.93],[481.29,1052.49],[481.35,1052.05],[481.82,1051.73],[478.8,1051],[470.08,1051.36],[472.73,1051.1],[472.93,1050.84],[469.49,1050.78],[470.54,1050.7],[470.9,1050.92],[471.4,1050.58],[470.68,1050.2],[469.8,1049.96],[468.75,1050.76],[474.36,1050.66],[474.28,1050.34],[472.17,1050.26],[471.74,1049.7],[472.03,1049.7],[472.37,1049.76],[471.34,1049.31],[471.24,1049.11],[472.03,1049.11],[472.17,1049.15],[473.43,1049.64],[473.17,1049.25],[473.49,1049.05],[473.92,1049.47],[472.79,1048.71],[474.78,1049.41],[475.26,1049.25],[475.46,1048.91],[474.98,1048.61],[476.17,1049.82],[477.57,1049.84],[477.8,1049.84],[478.14,1050.18],[477.51,1049.35],[477.71,1049.45],[478,1048.71],[480.59,1050.5],[480.15,1049.82],[482.28,1049.37],[479.93,1048.69],[480.79,1048.81],[480.49,1048.47],[481.63,1048.79],[476.25,1048.37],[476.81,1048.11],[474.38,1047.81],[474.92,1047.71],[468.95,1048.51],[468.95,1048.15],[469.09,1047.71],[469.69,1048.21],[469.9,1048.21],[470.24,1048.21],[470.54,1048.27],[470.8,1047.77],[471.87,1047.97],[472.13,1047.46],[472.89,1047.32],[476.11,1047.18],[476.75,1047.02],[481.29,1048.07],[481.15,1047.71],[482.02,1048.05],[482.24,1048.31],[482.58,1048.17],[482.84,1048.05],[483.12,1047.91],[483.08,1047.65],[480.43,1047.49],[482.28,1047.06],[482.88,1047.06],[468.85,1046.58],[469.51,1046.64],[471.18,1046.56],[471.48,1046.32],[477.94,1046.06],[472.93,1045.72],[473.59,1045.88],[474.42,1045.8],[477.84,1045.35],[473.96,1045.17],[474.16,1044.89],[474.56,1045.03],[473.31,1044.93],[470.24,1045.45],[470,1044.91],[471.1,1044.59],[475.62,1044.95],[476.57,1045.03],[476.77,1044.53],[478.34,1044.57],[480.25,1045.5],[480.71,1045.21],[479.89,1044.69],[481.31,1044.33],[480.25,1043.85],[468.75,1044.93],[469.98,1044.19],[470.4,1044.09],[469.78,1043.79],[470.1,1043.87],[470.38,1043.73],[470.52,1043.4],[473.53,1044.03],[473.07,1043.67],[473.78,1043.59],[474.28,1043.89],[478.76,1043.87],[478.5,1043.69],[479,1043.38],[479.34,1042.94],[472.03,1043.18],[472.35,1043.28],[472.87,1043.08],[473.17,1042.86],[472.99,1042.56],[474.22,1043.06],[474.78,1043.02],[474.44,1042.7],[475.97,1042.74],[476.29,1042.78],[477.8,1042.58],[468.91,1042.92],[469.41,1042.58],[470.8,1042.84],[471.24,1042.48],[468.85,1041.88],[469.25,1041.94],[469.65,1041.94],[469.88,1042.04],[470.24,1042.04],[470.6,1042.14],[470.94,1042.14],[471.24,1041.88],[471.5,1042.18],[472.03,1041.7],[471.64,1041.58],[472.17,1041.31],[470.68,1041.31],[472.83,1041.55],[473.27,1041.43],[473.61,1041.47],[474.38,1041.9],[474.62,1042.1],[475.02,1042],[475.32,1041.62],[476.81,1041.68],[477.21,1041.57],[476.87,1041.35],[478.06,1041.47],[477.9,1041.03],[478.3,1040.83],[478.1,1040.45],[477.86,1040.31],[479.3,1040.77],[479.14,1040.41],[481.11,1041.72],[481.35,1041.27],[481.82,1040.93],[482.22,1040.81],[471.6,1040.35],[471.48,1040.25],[472.43,1040.11],[476.01,1040.45],[475.66,1040.27],[479.83,1040.21],[479.99,1039.91],[480.25,1039.65],[480.53,1039.46],[474.12,1039.95],[474.62,1039.93],[474.26,1039.55],[474.88,1039.63],[475.12,1039.36],[469.61,1039.6],[470.84,1039.36],[470.94,1039.16],[471.93,1039.65],[472.83,1039.59],[477.21,1039.81],[477.9,1039.77],[478.84,1039.85],[482.34,1039.65],[482.62,1039.63],[482.62,1039],[482.52,1038.76],[479.79,1039.06],[470.4,1038.92],[471.68,1038.78],[474.58,1038.86],[474.76,1038.6],[473.41,1038.64],[475.77,1038.54],[478.6,1038.66],[470.54,1038.3],[470.7,1037.82],[471.16,1037.37],[469.9,1037.92],[473.76,1037.86],[474.02,1037.72],[474.56,1037.86],[476.31,1037.82],[476.01,1037.6],[481.49,1038.1],[482.08,1037.72],[482.68,1038.02],[483.08,1038.2],[482.94,1037.66],[477.11,1037.33],[477.31,1037.27],[476.51,1037.03],[476.67,1036.91],[479.75,1037.13],[480.55,1037.09],[481.29,1037.21],[481.59,1037.01],[481.92,1037.07],[479.5,1036.67],[474.42,1036.81],[475.22,1036.51],[474.8,1036.07],[473.41,1036.35],[477.03,1036.39],[479.85,1035.6],[479.2,1035.22],[481.49,1035.12],[476.81,1035.26],[476.15,1034.48],[479.16,1034.5],[481.29,1034.48],[482.12,1034.54],[482.72,1034.64],[472.83,1034.26],[479.4,1034.02],[479.64,1034.06],[473.23,1033.57],[475.77,1033.45],[473.15,1033.03],[473.78,1032.99],[473.37,1032.79],[476.07,1032.95],[475.52,1032.69],[475.26,1032.45],[476.51,1032.53],[478.1,1032.59],[478.14,1032.15],[479.26,1032.95],[479.79,1032.83],[480.05,1032.79],[482.84,1033.11],[475.26,1031.73],[476.81,1031.61]];

var wellsFarSW = [[447.43,1053.22],[448.81,1053.38],[449.12,1053.42],[450.72,1052.71],[447.69,1051.35],[449.54,1050.82],[449.88,1050.7],[448.19,1050.46],[448.23,1050],[448.61,1049.66],[450.5,1050.16],[450.42,1048.65],[450.18,1048.21],[450.54,1048.05]];

var axisColor = '#555555';
var sansFamily = '"Liberation Sans",Arial,sans-serif';
var degFontX = {family:sansFamily,size:16,style:'italic'};
var degFontY = {family:sansFamily,size:15,style:'italic'};
var utmFontX = {family:sansFamily,size:14.7};
var utmFontY = {family:sansFamily,size:15.5};

function fixedTicks(values){
    return function(axis){
        axis.ticks = values.map(function(v){ return {value:v}; });
    };
}
function labelFrom(values,labels){
    return function(v){ return labels[values.indexOf(v)]; };
}
function fixedSize(prop,size){
    return function(axis){
        axis[prop] = size;
        axis.paddingLeft = 0; axis.paddingRight = 0; axis.paddingTop = 0; axis.paddingBottom = 0;
        // labels sit outside the zero size axes, no clipping to the box
        axis._computeLabelArea = function(){ return undefined; };
    };
}
function hAxis(pos,values,labels,font,tickLen,pad,size,weight){
    return {
        type:'linear',position:pos,min:441.7,max:509.4,weight:weight,
        afterBuildTicks:fixedTicks(values),afterFit:fixedSize('height',size),
        border:{color:axisColor,width:1.3},
        grid:{drawOnChartArea:false,tickLength:-tickLen,tickColor:axisColor,tickWidth:1.2},
        ticks:{callback:labelFrom(values,labels),font:font,color:'#3a3a3a',padding:pad,autoSkip:false,maxRotation:0,minRotation:0}
    };
}
function vAxis(pos,values,labels,font,tickLen,pad,size,weight,rot){
    return {
        type:'linear',position:pos,min:1027.37,max:1098.36,weight:weight,
        afterBuildTicks:fixedTicks(values),afterFit:fixedSize('width',size),
        border:{color:axisColor,width:1.3},
        grid:{drawOnChartArea:false,tickLength:-tickLen,tickColor:axisColor,tickWidth:1.2},
        ticks:{callback:labelFrom(values,labels),font:font,color:'#3a3a3a',padding:pad,autoSkip:false,crossAlign:'center',minRotation:rot,maxRotation:rot}
    };
}

// text squeezed horizontally, the map lettering is condensed
function squeezed(ctx,text,x,y,size,sx,color){
    ctx.save();
    ctx.translate(x,y);
    ctx.scale(sx,1);
    ctx.font = size+'px '+sansFamily;
    ctx.fillStyle = color||'#222';
    ctx.textAlign = 'center';
    ctx.textBaseline = 'middle';
    ctx.fillText(text,0,0);
    ctx.restore();
}

var mapDecor = {
    id:'mapDecor',
    afterDraw:function(chart){
        var ctx = chart.ctx, xs = chart.scales.x;
        var x0 = xs.getPixelForValue(scaleBarOrigin-5.15), x1 = xs.getPixelForValue(scaleBarOrigin+15);
        // scale bar
        ctx.fillStyle = '#000';
        ctx.fillRect(x0,921,x1-x0,14);
        ctx.fillStyle = '#fff';
        var topRow = [[-4.85,-4.05],[-2.8,-2.05],[-0.8,-0.05],[5.1,10]];
        var lowRow = [[-3.85,-3],[-1.85,-1],[0.1,4.95],[10.15,14.95]];
        topRow.forEach(function(s){
            var a = xs.getPixelForValue(scaleBarOrigin+s[0]), b = xs.getPixelForValue(scaleBarOrigin+s[1]);
            ctx.fillRect(a,924,b-a,2.5);
        });
        lowRow.forEach(function(s){
            var a = xs.getPixelForValue(scaleBarOrigin+s[0]), b = xs.getPixelForValue(scaleBarOrigin+s[1]);
            ctx.fillRect(a,930.5,b-a,2.5);
        });
        scaleBarTicks.forEach(function(t,i){
            squeezed(ctx,scaleBarLabels[i],xs.getPixelForValue(scaleBarOrigin+t)-(i?5:2),911,16,0.86,'#333');
        });
        squeezed(ctx,'(meters)',975,951,15,0.88,'#333');
        squeezed(ctx,'WGS 84 / UTM zone 30N',967,972,11,0.88,'#333');
        squeezed(ctx,'Depth : 50-75 m',1027,1163,37.5,0.85,'#111');
        squeezed(ctx,'N',1111,113,56,0.72,'#222');
        // north arrow
        ctx.beginPath();
        ctx.moveTo(1112.3,137.3);ctx.lineTo(1084.7,238.5);ctx.lineTo(1112.3,201);ctx.closePath();
        ctx.fillStyle = '#000';ctx.fill();
        ctx.beginPath();
        ctx.moveTo(1112.3,137.3);ctx.lineTo(1140,237.7);ctx.lineTo(1112.3,201);
        ctx.strokeStyle = '#222';ctx.lineWidth = 1;ctx.stroke();
    }
};

var wells = [].concat(wellsNW,wellsN,wellsNE,wellsGap,wellsW,wellsC,wellsE,wellsSW,wellsS,wellsFarSW);

var chart = new Chart(document.getElementById('map').getContext('2d'),{
    type:'scatter',
    data:{datasets:[{
        label:'Boreholes',
        data:wells.map(function(p){ return {x:p[0],y:p[1]}; }),
        pointRadius:3.4,pointHoverRadius:3.4,
        backgroundColor:'#e08a1f',borderColor:'#201408',borderWidth:1.8
    }]},
    options:{
        responsive:false,animation:false,
        layout:{padding:0},
        plugins:{legend:{display:false},tooltip:{enabled:false}},
        scales:{
            x:hAxis('bottom',utmEast,utmEastLabels,utmFontX,8,11,0,1),
            lonB:hAxis('bottom',lonTicks,lonLabels,degFontX,28,50,40,2),
            xTop:hAxis('top',utmEast,utmEastLabels,utmFontX,8,8,0,1),
            lonT:hAxis('top',lonTicks,lonLabels,degFontX,28,45,45,2),
            y:vAxis('left',utmNorth,utmNorthLabels,utmFontY,8,-12,0,1,90),
            latL:vAxis('left',latTicks,latLabels,degFontY,28,40,47,2,90),
            yRight:vAxis('right',utmNorth,utmNorthLabels,utmFontY,8,-12,0,1,-90),
            latR:vAxis('right',latTicks,latLabels,degFontY,28,40,47,2,-90)
        }
    },
    plugins:[mapDecor]
});
</script>
</body>
</html>
